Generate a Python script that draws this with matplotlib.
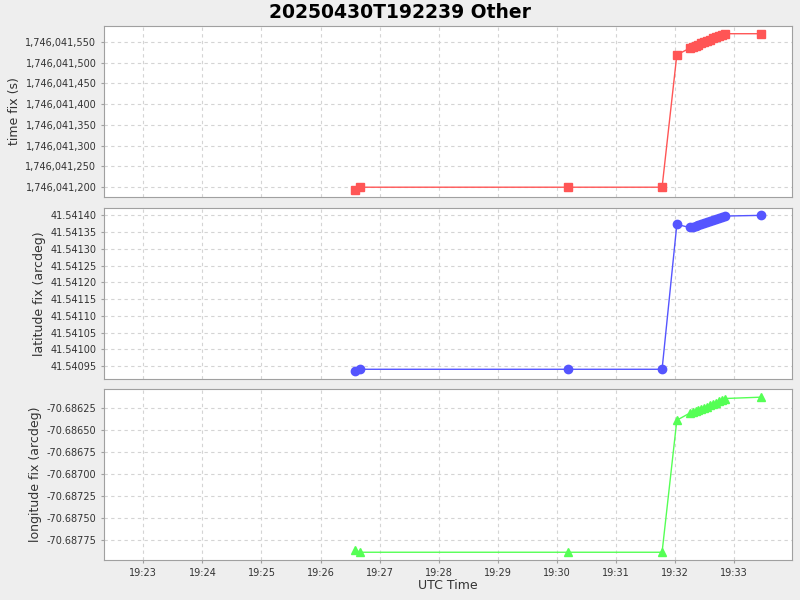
#!/usr/bin/env python3
import datetime as dt
import matplotlib
matplotlib.use("Agg")
import matplotlib.pyplot as plt
import matplotlib.dates as mdates
from matplotlib.ticker import FuncFormatter, MultipleLocator

# ---- data ----
times = ["19:26:35", "19:26:40", "19:30:11", "19:31:47", "19:32:02",
         "19:32:15", "19:32:18", "19:32:21", "19:32:24", "19:32:27",
         "19:32:30", "19:32:33", "19:32:36", "19:32:39", "19:32:42",
         "19:32:45", "19:32:48", "19:32:51", "19:33:27"]
time_fix = [1746041194, 1746041200, 1746041200, 1746041200, 1746041519,
            1746041535, 1746041538, 1746041541, 1746041544, 1746041547,
            1746041550, 1746041553, 1746041556, 1746041559, 1746041562,
            1746041565, 1746041567, 1746041570, 1746041570]
lat_fix = [41.540935, 41.540941, 41.540941, 41.540941, 41.541373,
           41.541364, 41.541366, 41.541369, 41.541372, 41.541375,
           41.541377, 41.541379, 41.541382, 41.541385, 41.541388,
           41.541391, 41.541394, 41.541398, 41.541400]
lon_fix = [-70.687860, -70.687886, -70.687886, -70.687886, -70.686386,
           -70.686307, -70.686295, -70.686283, -70.686271, -70.686258,
           -70.686245, -70.686232, -70.686218, -70.686203, -70.686188,
           -70.686172, -70.686156, -70.686140, -70.686125]

x = [dt.datetime.strptime("2025-04-30 " + t, "%Y-%m-%d %H:%M:%S") for t in times]
x_lo = dt.datetime(2025, 4, 30, 19, 22, 20)
x_hi = dt.datetime(2025, 4, 30, 19, 33, 59)

BG = "#EEEEEE"
GRID = "#D4D4D4"
EDGE = "#A0A0A0"
TXT = "#333333"

fig = plt.figure(figsize=(8, 6), dpi=100, facecolor=BG)
fig.text(0.5, 0.98, "20250430T192239 Other", ha="center", va="center",
         fontsize=13.5, fontweight="bold")

L, W = 104 / 800, 688 / 800
panels = [
    (26, 197, time_fix, "#FF5555", "s", "time fix (s)", (1746041176.4, 1746041588.6),
     50, lambda v, p: f"{v:,.0f}"),
    (208, 379, lat_fix, "#5555FF", "o", "latitude fix (arcdeg)", (41.540912, 41.541422),
     0.00005, lambda v, p: f"{v:.5f}"),
    (389, 560, lon_fix, "#55FF55", "^", "longitude fix (arcdeg)", (-70.687974, -70.686032),
     0.00025, lambda v, p: f"{v:.5f}"),
]

axes = []
for i, (top, bot, vals, col, mk, lab, ylim, step, fmt) in enumerate(panels):
    ax = fig.add_axes([L, 1 - bot / 600, W, (bot - top) / 600])
    ax.set_facecolor("white")
    ax.plot(x, vals, color=col, lw=1.0, marker=mk, ms=6, mec=col, mfc=col)
    ax.set_xlim(x_lo, x_hi)
    ax.set_ylim(*ylim)
    ax.yaxis.set_major_locator(MultipleLocator(step))
    ax.yaxis.set_major_formatter(FuncFormatter(fmt))
    ax.xaxis.set_major_locator(mdates.MinuteLocator())
    ax.xaxis.set_major_formatter(mdates.DateFormatter("%H:%M"))
    ax.grid(True, color=GRID, ls=(0, (3, 3)), lw=0.8)
    ax.set_axisbelow(True)
    for s in ax.spines.values():
        s.set_color(EDGE)
    ax.tick_params(colors=EDGE, labelcolor=TXT, labelsize=7, length=2, width=0.8)
    ax.set_ylabel(lab, fontsize=9, color=TXT, labelpad=3)
    if i < 2:
        ax.tick_params(axis="x", labelbottom=False, length=0)
    axes.append(ax)

axes[-1].set_xlabel("UTC Time", fontsize=9, color=TXT, labelpad=1)

fig.savefig("out.png", dpi=100, facecolor=BG)
